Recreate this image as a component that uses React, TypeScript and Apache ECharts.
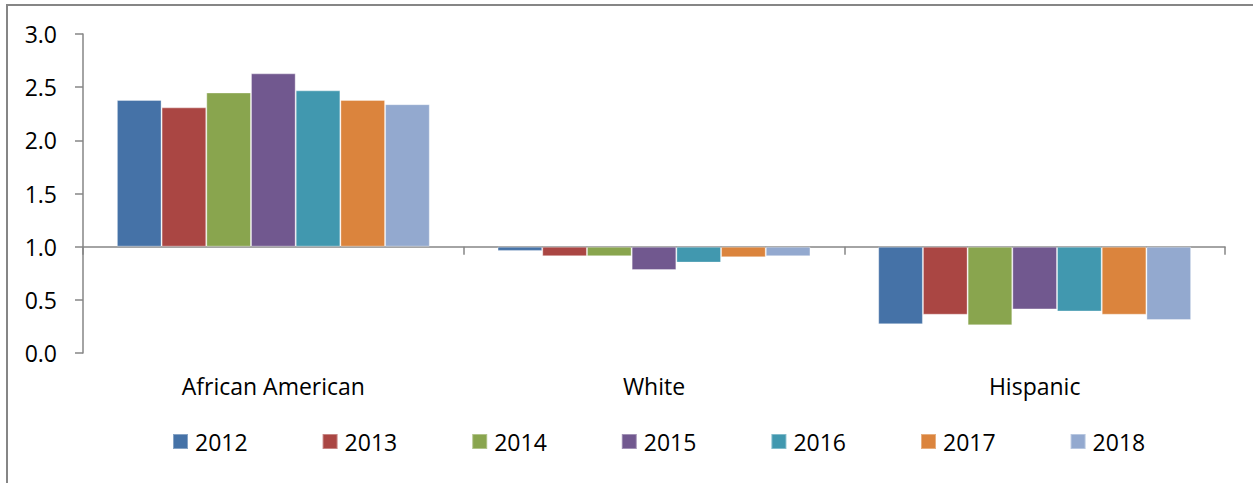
import React, { useEffect, useRef } from "react";
import * as echarts from "echarts";

const categories = ["African American", "White", "Hispanic"];
const years = ["2012", "2013", "2014", "2015", "2016", "2017", "2018"];
const v2012 = [2.38, 0.96, 0.27];
const v2013 = [2.31, 0.91, 0.36];
const v2014 = [2.45, 0.91, 0.26];
const v2015 = [2.63, 0.78, 0.41];
const v2016 = [2.47, 0.85, 0.39];
const v2017 = [2.38, 0.9, 0.36];
const v2018 = [2.34, 0.91, 0.31];
const yearValues = [v2012, v2013, v2014, v2015, v2016, v2017, v2018];
const colors = ["#4572A7", "#AA4643", "#89A54E", "#71588F", "#4198AF", "#DB843D", "#93A9CF"];
const baseline = 1.0;
const yMin = 0;
const yMax = 3;
const yStep = 0.5;

const FONT = "'Open Sans', 'Liberation Sans', sans-serif";

export default function App() {
  const ref = useRef<HTMLDivElement>(null);
  useEffect(() => {
    if (!ref.current) return;
    const chart = echarts.init(ref.current, undefined, { renderer: "svg" });
    const axisColor = "#868686";
    const option: any = {
      animation: false,
      backgroundColor: "#ffffff",
      color: colors,
      grid: { left: 83, right: 28, top: 34, bottom: 130, containLabel: false, outerBoundsMode: "none" },
      xAxis: {
        type: "category",
        data: categories,
        axisLine: { onZero: true, lineStyle: { color: axisColor, width: 1.5 } },
        axisTick: { show: true, length: 8, lineStyle: { color: axisColor, width: 1.5 } },
        axisLabel: {
          margin: 21,
          color: "#000",
          fontSize: 23,
          fontFamily: FONT,
        },
      },
      yAxis: {
        type: "value",
        min: yMin - baseline,
        max: yMax - baseline,
        interval: yStep,
        axisLine: { show: true, onZero: false, lineStyle: { color: axisColor, width: 1.5 } },
        axisTick: { show: true, length: 8, lineStyle: { color: axisColor, width: 1.5 } },
        splitLine: { show: false },
        axisLabel: {
          margin: 26,
          color: "#000",
          fontSize: 23,
          fontFamily: FONT,
          formatter: (v: number) => (v + baseline).toFixed(1),
        },
      },
      legend: years.map((y, i) => ({
        data: [y],
        left: 172 + i * 149.6,
        top: 430,
        itemWidth: 15,
        itemHeight: 15,
        itemGap: 0,
        icon: "rect",
        padding: 0,
        textStyle: { color: "#000", fontSize: 23, fontFamily: FONT, padding: [0, 0, 0, 2] },
      })),
      graphic: [
        {
          type: "rect",
          shape: { x: 7, y: 5, width: 1400, height: 600 },
          style: { fill: "none", stroke: axisColor, lineWidth: 2 },
          silent: true,
          z: -1,
        },
      ],
      series: years.map((y, i) => ({
        name: y,
        type: "bar",
        barGap: "0%",
        barCategoryGap: "17.8%",
        itemStyle: { color: colors[i], borderColor: "rgba(255,255,255,0.35)", borderWidth: 1 },
        data: yearValues[i].map((v) => +(v - baseline).toFixed(4)),
      })),
    };
    chart.setOption(option);
    return () => chart.dispose();
  }, []);
  return (
    <div
      ref={ref}
      style={{ position: "fixed", left: 0, top: 0, width: 1253, height: 483, background: "#fff" }}
    />
  );
}
